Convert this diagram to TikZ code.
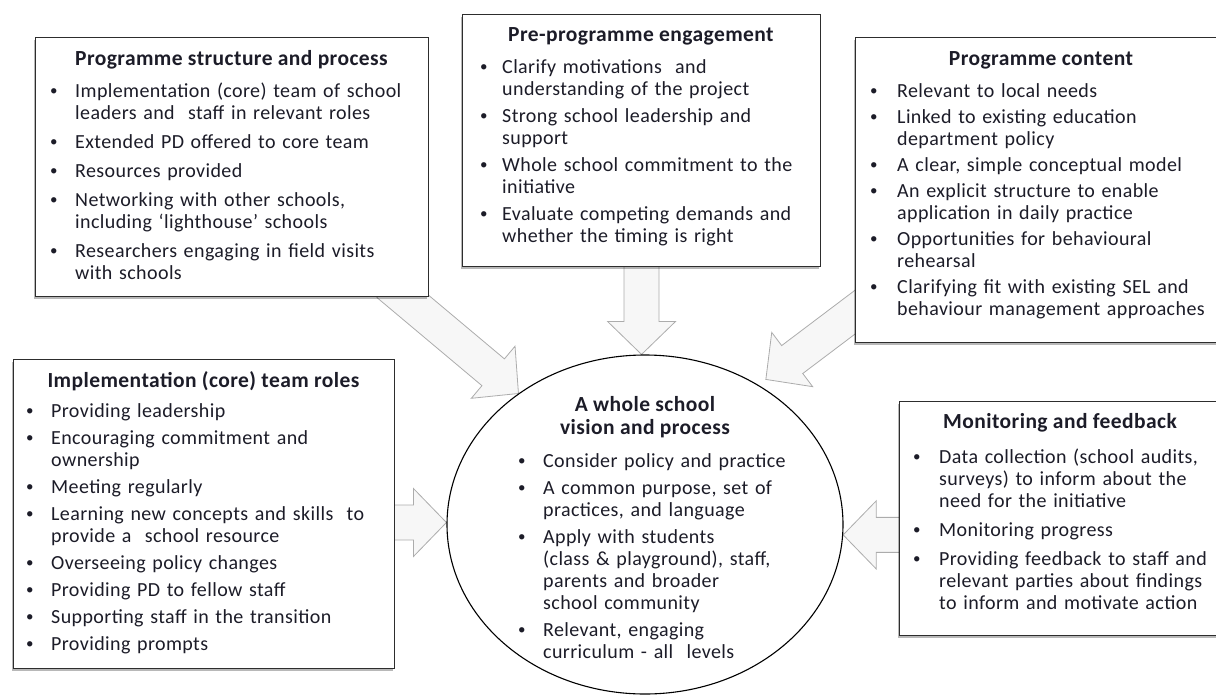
\documentclass[tikz,border=0pt]{standalone}
\usepackage{fontspec}
\setmainfont{Carlito}[LetterSpace=2]
\usetikzlibrary{shapes.geometric,shadows,calc,backgrounds}
\definecolor{txt}{RGB}{28,28,40}
\definecolor{frame}{RGB}{45,45,45}
\newlength\bind
\newlength\igap
\newcommand\smbul{\hspace{1pt}\raisebox{1.2pt}{\scalebox{0.75}{\textbullet}}}
\newcommand\blf[1]{\hangindent=\bind\hangafter=1\noindent\makebox[\bind][l]{\smbul}#1}
\newcommand\bl[1]{\par\vspace{\igap}\hangindent=\bind\hangafter=1\noindent\makebox[\bind][l]{\smbul}#1}
\newcommand\blockarrow[2]{%
\draw[barr] let \p1=(#1), \p2=(#2), \n1={atan2(\y2-\y1,\x2-\x1)} in
 ($(\p1)+(\n1+90:17.5pt)$) -- ($(\p2)+(\n1+180:33pt)+(\n1+90:17.5pt)$) --
 ($(\p2)+(\n1+180:33pt)+(\n1+90:34pt)$) -- (\p2) --
 ($(\p2)+(\n1+180:33pt)+(\n1-90:34pt)$) -- ($(\p2)+(\n1+180:33pt)+(\n1-90:17.5pt)$) --
 ($(\p1)+(\n1-90:17.5pt)$) -- cycle;}
\tikzset{
  box/.style={draw=frame, line width=1.1pt, fill=white,
    drop shadow={shadow xshift=-1.5pt, shadow yshift=-2.5pt, fill=black, opacity=0.28},
    anchor=north west, inner sep=0pt},
  ttl/.style={anchor=base, inner sep=0pt, font=\fontsize{21.5}{23}\selectfont\bfseries, text=txt, align=center},
  lst/.style={anchor=base west, inner sep=0pt, text width=420pt, font=\fontsize{20}{22}\selectfont, text=txt},
  barr/.style={draw=gray!65, line width=0.8pt, fill=gray!6, line join=miter},
}
\begin{document}
\begin{tikzpicture}[x=1pt,y=-1pt]
\useasboundingbox (0,0) rectangle (1216,696);
\clip (0,0) rectangle (1216,696);
% boxes
\node[box, minimum width=393pt, minimum height=259pt] (ps) at (35,37) {};
\node[box, minimum width=358pt, minimum height=252pt] (pp) at (462,14) {};
\node[box, minimum width=372pt, minimum height=305pt] (pc) at (855,37) {};
\node[box, minimum width=381pt, minimum height=309pt] (ir) at (13,359) {};
\node[box, minimum width=322pt, minimum height=234pt] (mf) at (899,401) {};
\node[ellipse, draw=black, line width=1.1pt, fill=white, minimum width=396pt, minimum height=339pt, inner sep=0pt] (ws) at (645,524.5) {};
% arrows
\coordinate (a1) at ($(ps.south east)+(-41,-13)$);
\coordinate (t1) at (ws.134);
\coordinate (a2) at ($(pp.south)+(0,-6)$);
\coordinate (t2) at (pp.south |- ws.north);
\coordinate (a3) at ($(pc.south west)+(12,-40)$);
\coordinate (t3) at ($(ws.50)+(5,-7)$);
\coordinate (a4) at ($(ir.east |- ws.west)+(-6,-2)$);
\coordinate (t4) at ($(ws.west)+(0,-2)$);
\coordinate (t5) at (ws.-3);
\coordinate (a5) at ($(mf.west |- t5)+(6,0)$);
\begin{pgfonlayer}{background}
\blockarrow{a1}{t1}
\blockarrow{a2}{t2}
\blockarrow{a3}{t3}
\blockarrow{a4}{t4}
\blockarrow{a5}{t5}
\end{pgfonlayer}
% Programme structure and process
\node[ttl] (psT) at (231.5,65) {Programme structure and process};
\node[lst] (psL) at (49,97) {\setlength\bind{26pt}\setlength\igap{7pt}%
\blf{Implementation (core) team of school\newline leaders and \ staff in relevant roles}%
\bl{Extended PD offered to core team}%
\bl{Resources provided}%
\bl{Networking with other schools,\newline including ‘lighthouse’ schools}%
\bl{Researchers engaging in field visits\newline with schools}\par};
% Pre-programme engagement
\node[ttl] (ppT) at (641,41) {Pre-programme engagement};
\node[lst] (ppL) at (479,73) {\setlength\bind{23pt}\setlength\igap{5pt}%
\blf{Clarify motivations \ and\newline understanding of the project}%
\bl{Strong school leadership and\newline support}%
\bl{Whole school commitment to the\newline initiative}%
\bl{Evaluate competing demands and\newline whether the timing is right}\par};
% Programme content
\node[ttl] (pcT) at (1041,65) {Programme content};
\node[lst] (pcL) at (869,97) {\setlength\bind{28pt}\setlength\igap{4pt}%
\blf{Relevant to local needs}%
\bl{Linked to existing education\newline department policy}%
\bl{A clear, simple conceptual model}%
\bl{An explicit structure to enable\newline application in daily practice}%
\bl{Opportunities for behavioural\newline rehearsal}%
\bl{Clarifying fit with existing SEL and\newline behaviour management approaches}\par};
% Implementation (core) team roles
\node[ttl] (irT) at (203.5,387) {Implementation (core) team roles};
\node[lst] (irL) at (25,417) {\setlength\bind{26pt}\setlength\igap{5pt}%
\blf{Providing leadership}%
\bl{Encouraging commitment and\newline ownership}%
\bl{Meeting regularly}%
\bl{Learning new concepts and skills \ to\newline provide a \ school resource}%
\bl{Overseeing policy changes}%
\bl{Providing PD to fellow staff}%
\bl{Supporting staff in the transition}%
\bl{Providing prompts}\par};
% Monitoring and feedback
\node[ttl] (mfT) at (1060,428) {Monitoring and feedback};
\node[lst] (mfL) at (912,463) {\setlength\bind{27pt}\setlength\igap{7pt}%
\blf{Data collection (school audits,\newline surveys) to inform about the\newline need for the initiative}%
\bl{Monitoring progress}%
\bl{Providing feedback to staff and\newline relevant parties about findings\newline to inform and motivate action}\par};
% centre
\node[ttl] (wsT) at (645,434) {A whole school\\vision and process};
\node[lst] (wsL) at (517,467) {\setlength\bind{26pt}\setlength\igap{5pt}%
\blf{Consider policy and practice}%
\bl{A common purpose, set of\newline practices, and language}%
\bl{Apply with students\newline (class \& playground), staff,\newline parents and broader\newline school community}%
\bl{Relevant, engaging\newline curriculum - all \ levels}\par};
\end{tikzpicture}
\end{document}
